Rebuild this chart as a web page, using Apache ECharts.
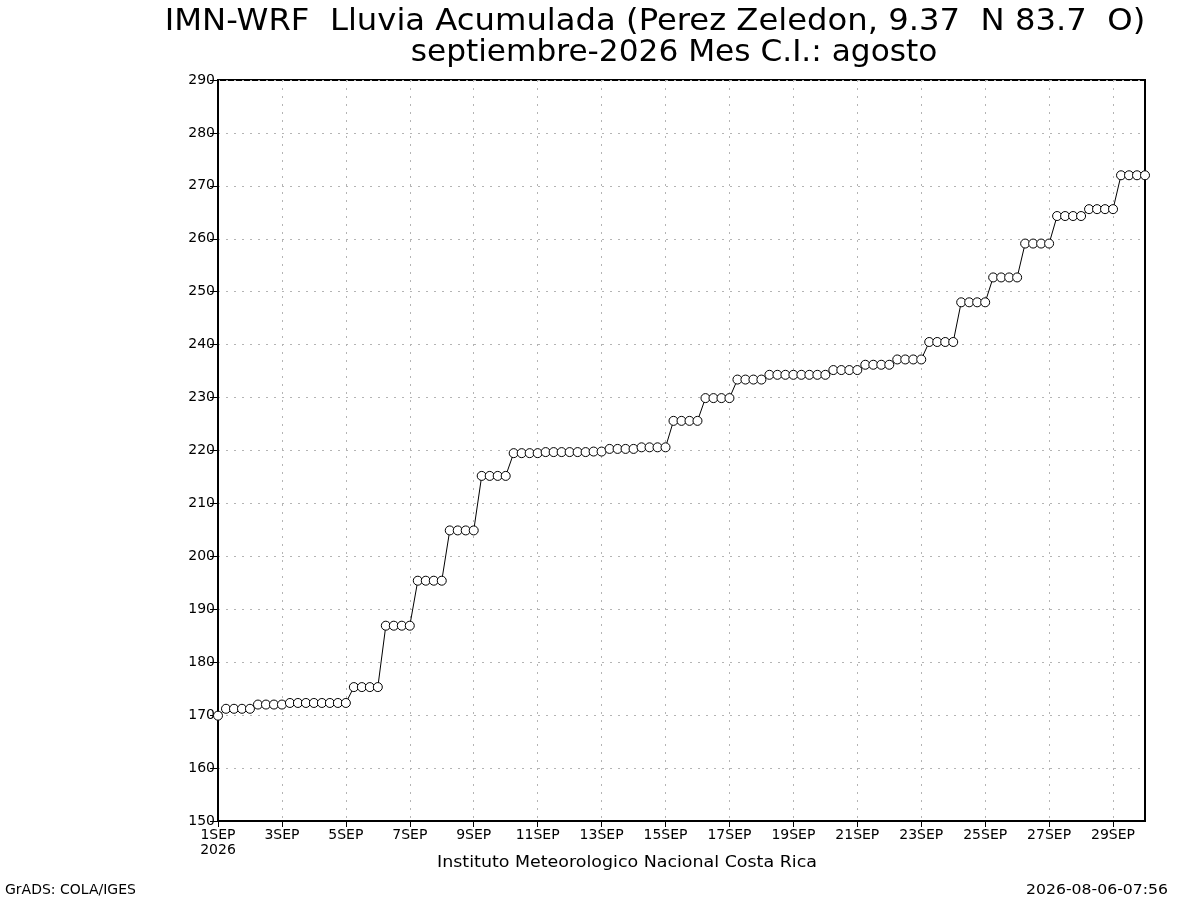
<!DOCTYPE html>
<html>
<head>
<meta charset="utf-8">
<script src="https://cdn.jsdelivr.net/npm/echarts@6/dist/echarts.min.js"></script>
<style>
html,body{margin:0;padding:0;background:#fff;}
#chart{width:1200px;height:900px;}
</style>
</head>
<body>
<div id="chart"></div>
<script>
// Accumulated rainfall (mm), every 6 hours from 1SEP 00Z to 30SEP 00Z
var rainValues = [
  169.9,
  171.2, 171.2, 171.2, 171.2,
  172.0, 172.0, 172.0, 172.0,
  172.3, 172.3, 172.3, 172.3, 172.3, 172.3, 172.3, 172.3,
  175.3, 175.3, 175.3, 175.3,
  186.9, 186.9, 186.9, 186.9,
  195.4, 195.4, 195.4, 195.4,
  204.9, 204.9, 204.9, 204.9,
  215.2, 215.2, 215.2, 215.2,
  219.5, 219.5, 219.5, 219.5,
  219.7, 219.7, 219.7, 219.7, 219.7, 219.7,
  219.8, 219.8,
  220.3, 220.3, 220.3, 220.3,
  220.6, 220.6, 220.6, 220.6,
  225.6, 225.6, 225.6, 225.6,
  229.9, 229.9, 229.9, 229.9,
  233.4, 233.4, 233.4, 233.4,
  234.3, 234.3, 234.3, 234.3, 234.3, 234.3, 234.3, 234.3,
  235.2, 235.2, 235.2, 235.2,
  236.2, 236.2, 236.2, 236.2,
  237.2, 237.2, 237.2, 237.2,
  240.5, 240.5, 240.5, 240.5,
  248.0, 248.0, 248.0, 248.0,
  252.7, 252.7, 252.7, 252.7,
  259.1, 259.1, 259.1, 259.1,
  264.3, 264.3, 264.3, 264.3,
  265.6, 265.6, 265.6, 265.6,
  272.0, 272.0, 272.0, 272.0
];

var dayNumbers = [1,2,3,4,5,6,7,8,9,10,11,12,13,14,15,16,17,18,19,20,21,22,23,24,25,26,27,28,29,30];
var hourSteps = ['00','06','12','18'];
var monthName = 'SEP';
var yearLabel = '2026';

var yTicks = [150,160,170,180,190,200,210,220,230,240,250,260,270,280,290];

var titleLine1 = 'IMN-WRF  Lluvia Acumulada (Perez Zeledon, 9.37  N 83.7  O)';
var titleLine2 = 'septiembre-2026 Mes C.I.: agosto';
var footerCenter = 'Instituto Meteorologico Nacional Costa Rica';
var footerLeft = 'GrADS: COLA/IGES';
var footerRight = '2026-08-06-07:56';

// build time categories (6-hourly)
var categories = [];
for (var d = 0; d < dayNumbers.length; d++) {
  for (var h = 0; h < hourSteps.length; h++) {
    if (categories.length < rainValues.length) {
      categories.push(dayNumbers[d] + monthName + ' ' + hourSteps[h] + 'Z');
    }
  }
}

var chart = echarts.init(document.getElementById('chart'), null, {renderer: 'canvas'});
var FONT = 'DejaVu Sans';
var GRID_COLOR = '#b4b4b4';

var option = {
  backgroundColor: '#ffffff',
  animation: false,
  grid: {
    left: 218, right: 55, top: 80, bottom: 79,
    show: true, borderColor: '#000', borderWidth: 2, backgroundColor: 'transparent'
  },
  xAxis: {
    type: 'category',
    data: categories,
    boundaryGap: false,
    axisLine: {show: true, lineStyle: {color: '#000', width: 2}},
    axisTick: {show: true, interval: 7, length: 6, inside: false, lineStyle: {color: '#000', width: 1}},
    axisLabel: {
      interval: 7, margin: 7, color: '#000', fontFamily: FONT, fontSize: 14, lineHeight: 15,
      formatter: function (val, idx) {
        var day = val.split(' ')[0];
        if (idx === 0) return day + '\n' + yearLabel;
        return day;
      }
    },
    splitLine: {show: true, interval: 7, lineStyle: {color: GRID_COLOR, type: [2, 6], width: 1}}
  },
  yAxis: {
    type: 'value',
    min: yTicks[0],
    max: yTicks[yTicks.length - 1],
    interval: 10,
    axisLine: {show: true, lineStyle: {color: '#000', width: 2}},
    axisTick: {show: true, length: 8, lineStyle: {color: '#000', width: 1}},
    axisLabel: {margin: 3, color: '#000', fontFamily: FONT, fontSize: 14},
    splitLine: {show: true, lineStyle: {color: GRID_COLOR, type: [2, 6], width: 1}}
  },
  series: [{
    type: 'line',
    data: rainValues,
    symbol: 'circle',
    symbolSize: 9,
    showAllSymbol: true,
    clip: false,
    lineStyle: {color: '#000', width: 1},
    itemStyle: {color: '#fff', borderColor: '#000', borderWidth: 1}
  }],
  graphic: [
    {type: 'text', x: 655, y: 22, scaleX: 1.075, style: {text: titleLine1, textAlign: 'center', textVerticalAlign: 'middle', fill: '#000', font: 'normal 30px "' + FONT + '"'}},
    {type: 'text', x: 674, y: 53, scaleX: 1.04, style: {text: titleLine2, textAlign: 'center', textVerticalAlign: 'middle', fill: '#000', font: 'normal 30px "' + FONT + '"'}},
    {type: 'text', x: 627, y: 863, scaleX: 1.09, style: {text: footerCenter, textAlign: 'center', textVerticalAlign: 'middle', fill: '#000', font: 'normal 16px "' + FONT + '"'}},
    {type: 'text', x: 5, y: 890, style: {text: footerLeft, textAlign: 'left', textVerticalAlign: 'middle', fill: '#000', font: 'normal 14px "' + FONT + '"'}},
    {type: 'text', x: 1168, y: 890, scaleX: 1.12, style: {text: footerRight, textAlign: 'right', textVerticalAlign: 'middle', fill: '#000', font: 'normal 14px "' + FONT + '"'}}
  ]
};
chart.setOption(option);
</script>
</body>
</html>
